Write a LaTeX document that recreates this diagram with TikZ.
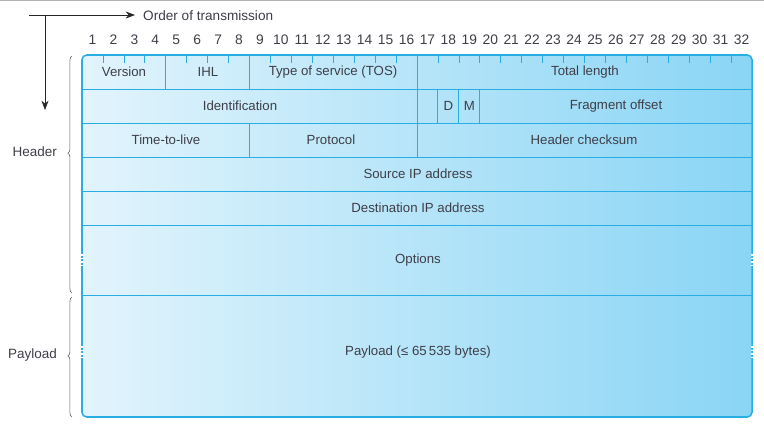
\documentclass[tikz,border=0pt]{standalone}
\usepackage{fontspec}
\setmainfont{Liberation Sans}
\usetikzlibrary{arrows.meta,decorations.pathreplacing}
\definecolor{pktline}{RGB}{40,174,228}
\definecolor{pktlight}{RGB}{226,244,252}
\definecolor{pktdark}{RGB}{138,213,245}
\definecolor{pkttext}{RGB}{62,62,72}

\begin{document}
\begin{tikzpicture}[
  x=0.03cm, y=-0.03cm,
  font=\fontsize{11.3}{13}\selectfont, text=pkttext,
  field/.style={inner sep=1pt},
  bitnum/.style={font=\fontsize{11.8}{13}\selectfont, inner sep=0pt},
  pktrule/.style={draw=pktline, line width=0.8pt},
  bittick/.style={draw=pktline, line width=0.6pt},
  hbrace/.style={draw=gray!75!black, line width=0.5pt, decorate, decoration={brace, amplitude=3.5pt, aspect=#1}},
  sidelab/.style={font=\fontsize{11.5}{13}\selectfont, anchor=east, inner sep=0pt},
  varmark/.style={draw=white, line width=1.4pt, dash pattern=on 1.5pt off 1.5pt},
  order/.style={-{Stealth[length=8pt,width=6pt]}, line width=0.6pt, draw=black!85}
]
\useasboundingbox (0,0) rectangle (764,427);
\draw[gray!60, line width=1.2pt] (0,0.6) -- (764,0.6);

\coordinate (origin) at (45,15);
\coordinate (hstart) at (29,15);
\coordinate (hend) at (135,15);
\coordinate (vend) at (45,110);
\draw[order] (hstart) -- (hend);
\draw[order] (origin) -- (vend);
\node[anchor=west, font=\fontsize{11.6}{13}\selectfont, inner sep=0pt] (ordertxt) at (143,16) {Order of transmission};

\foreach \b in {1,...,32} {
  \node[bitnum] (bit\b) at ({82+20.9375*(\b-0.5)},40) {\b};
}

\shade[left color=pktlight, right color=pktdark, rounded corners=4pt] (82,55) rectangle (752,417);
\foreach \k in {1,2,3,5,6,7,9,10,11,12,13,14,15,17,18,19,20,21,22,23,24,25,26,27,28,29,30,31} {
  \draw[bittick] ({82+20.9375*\k},55) -- ++(0,8);
}
\foreach \y in {89,123,157,191,225,295} {
  \draw[pktrule] (82,\y) -- (752,\y);
}
\foreach \k in {4,8,16} {\draw[pktrule] ({82+20.9375*\k},55) -- ({82+20.9375*\k},89);}
\foreach \k in {16,17,18,19} {\draw[pktrule] ({82+20.9375*\k},89) -- ({82+20.9375*\k},123);}
\foreach \k in {8,16} {\draw[pktrule] ({82+20.9375*\k},123) -- ({82+20.9375*\k},157);}
\draw[draw=pktline, line width=1.3pt, rounded corners=4pt] (82,55) rectangle (752,417);
\foreach \x in {82,752} {
  \draw[varmark] (\x,254) -- (\x,266);
  \draw[varmark] (\x,346) -- (\x,358);
}

\node[field] (version) at (124,72) {Version};
\node[field] (ihl) at (208,72) {IHL};
\node[field] (tos) at (333,72) {Type of service (TOS)};
\node[field] (totlen) at (585,72) {Total length};
\node[field] (ident) at (240,106) {Identification};
\node[field] (flagd) at (448.5,106) {D};
\node[field] (flagm) at (469.5,106) {M};
\node[field] (fragoff) at (616,106) {Fragment offset};
\node[field] (ttl) at (166,140) {Time-to-live};
\node[field] (proto) at (331,140) {Protocol};
\node[field] (checksum) at (584,140) {Header checksum};
\node[field] (srcip) at (418,174) {Source IP address};
\node[field] (dstip) at (418,208) {Destination IP address};
\node[field] (options) at (418,260) {Options};
\node[field] (payload) at (418,352) {Payload (≤ 65\,535 bytes)};

\coordinate (hdrbot) at (72,293);
\coordinate (hdrtop) at (72,56);
\coordinate (paybot) at (72,417);
\coordinate (paytop) at (72,297);
\draw[hbrace=0.59] (hdrbot) -- (hdrtop);
\draw[hbrace=0.51] (paybot) -- (paytop);
\node[sidelab] (hdrlab) at (57,152) {Header};
\node[sidelab] (paylab) at (57,355) {Payload};
\end{tikzpicture}
\end{document}
